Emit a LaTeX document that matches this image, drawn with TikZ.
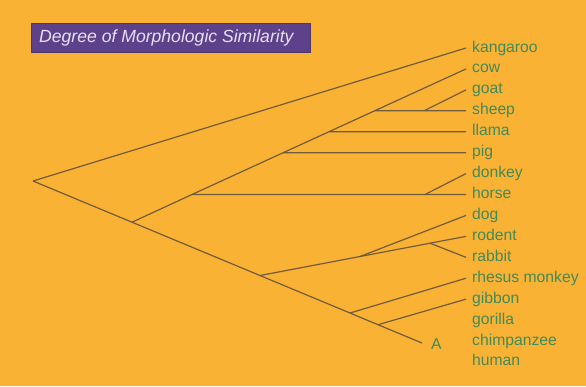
\documentclass[tikz,border=0pt]{standalone}
\usepackage{fontspec}
\setmainfont{Liberation Sans}
\usepackage{xcolor}
\usetikzlibrary{positioning,calc}
\definecolor{bgorange}{RGB}{250,178,52}
\definecolor{titlepurple}{RGB}{93,66,139}
\definecolor{titletext}{RGB}{232,224,245}
\definecolor{taxongreen}{RGB}{66,138,88}
\definecolor{branchbrown}{RGB}{112,92,58}

\begin{document}
\begin{tikzpicture}[x=1pt,y=-1pt,
  taxon/.style={anchor=west,inner xsep=6pt,inner ysep=0pt,text height=11pt,text depth=3pt,font=\fontsize{15.7}{15.7}\selectfont,text=taxongreen},
  branch/.style={draw=branchbrown,line width=1.2pt}]
  \fill[bgorange] (0,0) rectangle (586,386);
  \useasboundingbox (0,0) rectangle (586,386);
  \node[draw=titlepurple!80!black,fill=titlepurple,minimum width=279pt,minimum height=29pt,anchor=north west,inner sep=0pt] (title) at (31,23) {};
  \node[anchor=west,inner xsep=0pt,text=titletext,font=\fontsize{17.6}{17.6}\selectfont\itshape] (titletxt) at ($(title.west)+(8,0)$) {Degree of Morphologic Similarity};
  % taxa down the right side
  \foreach \name/\txt [count=\i from 0] in {kangaroo/kangaroo,cow/cow,goat/goat,sheep/sheep,llama/llama,pig/pig,donkey/donkey,horse/horse,dog/dog,rodent/rodent,rabbit/rabbit,rhesus/rhesus monkey,gibbon/gibbon,gorilla/gorilla,chimp/chimpanzee,human/human}
    \node[taxon] (\name) at (466,{48+20.93*\i}) {\txt};
  \node[taxon,inner xsep=0pt] (A) at (431,345) {A};
  % branch points
  \coordinate (root) at (33,181);
  \coordinate (j1) at (132,222.2);
  \coordinate (j2) at (192,194.5);
  \coordinate (j3) at (283.2,152.7);
  \coordinate (j4) at (329,131.7);
  \coordinate (j5) at (374.6,110.8);
  \coordinate (j6) at (424,110.8);
  \coordinate (j7) at (425,194.5);
  \coordinate (j8) at (260,275.5);
  \coordinate (j9) at (360,256.5);
  \coordinate (j10) at (430,243.2);
  \coordinate (j11) at (350,313);
  \coordinate (j12) at (378,324.7);
  \coordinate (aend) at (422,343);
  % tree
  \draw[branch] (root) -- (kangaroo.west);
  \draw[branch] (root) -- (j1) -- (j2) -- (j3) -- (j4) -- (j5) -- (cow.west);
  \draw[branch] (j5) -- (j6) -- (sheep.west);
  \draw[branch] (j6) -- (goat.west);
  \draw[branch] (j4) -- (llama.west);
  \draw[branch] (j3) -- (pig.west);
  \draw[branch] (j2) -- (j7) -- (horse.west);
  \draw[branch] (j7) -- (donkey.west);
  \draw[branch] (j1) -- (j8) -- (j11) -- (j12) -- (aend);
  \draw[branch] (j8) -- (j9) -- (j10) -- (rodent.west);
  \draw[branch] (j9) -- (dog.west);
  \draw[branch] (j10) -- (rabbit.west);
  \draw[branch] (j11) -- (rhesus.west);
  \draw[branch] (j12) -- (gibbon.west);
\end{tikzpicture}
\end{document}
